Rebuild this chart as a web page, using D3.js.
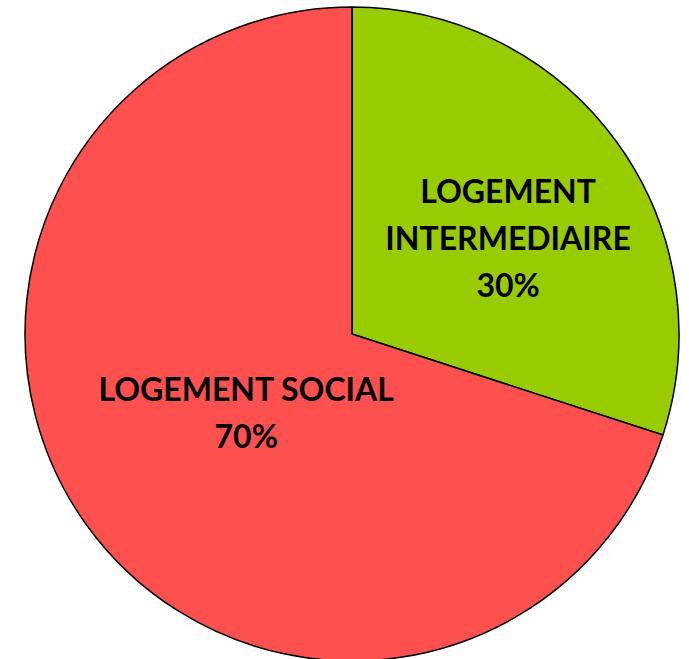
<!DOCTYPE html>
<html>
<head>
<meta charset="utf-8">
<script src="https://cdn.jsdelivr.net/npm/d3@7"></script>
<style>
  html, body { margin: 0; padding: 0; background: #fff; }
  svg { display: block; }
</style>
</head>
<body>
<div id="chart"></div>
<script>
'use strict';
// data
const categories = ["LOGEMENT INTERMEDIAIRE", "LOGEMENT SOCIAL"];
const labelLines = [["LOGEMENT", "INTERMEDIAIRE"], ["LOGEMENT SOCIAL"]];
const shares = [30, 70];
const colors = ["#99CC00", "#FF5050"];

const width = 689, height = 659;
const cx = 352, cy = 334, radius = 327;

let svg = d3.select("#chart").append("svg")
  .attr("width", width)
  .attr("height", height);

let g = svg.append("g").attr("transform", "translate(" + [cx, cy] + ")");

let data = categories.map(function (c, i) {
  return { name: c, value: shares[i], lines: labelLines[i], color: colors[i] };
});

let pie = d3.pie().sort(null).value(function (d) { return d.value; });
let arc = d3.arc().innerRadius(0).outerRadius(radius);
let arcs = pie(data);

g.selectAll("path")
  .data(arcs)
  .enter()
  .append("path")
  .attr("d", arc)
  .attr("fill", function (d) { return d.data.color; })
  .attr("stroke", "#000")
  .attr("stroke-width", 1.5)
  .attr("stroke-linejoin", "round");

// label radius per slice (fraction of radius) and small vertical nudge
let labelRadius = [0.59, 0.40];
let labelNudge = [18, 2];
let lineHeight = 47;

arcs.forEach(function (d, i) {
  let la = d3.arc().innerRadius(radius * labelRadius[i]).outerRadius(radius * labelRadius[i]);
  let c = la.centroid(d);
  let lines = d.data.lines.concat([d.data.value + "%"]);
  let top = c[1] + labelNudge[i] - (lines.length - 1) * lineHeight / 2;
  let t = g.append("text")
    .attr("text-anchor", "middle")
    .attr("font-family", "Lato, 'Open Sans', sans-serif")
    .attr("font-weight", "bold")
    .attr("font-size", "32px")
    .attr("fill", "#000");
  lines.forEach(function (s, k) {
    t.append("tspan")
      .attr("x", c[0])
      .attr("y", top + k * lineHeight)
      .attr("dy", "0.36em")
      .text(s);
  });
});
</script>
</body>
</html>
